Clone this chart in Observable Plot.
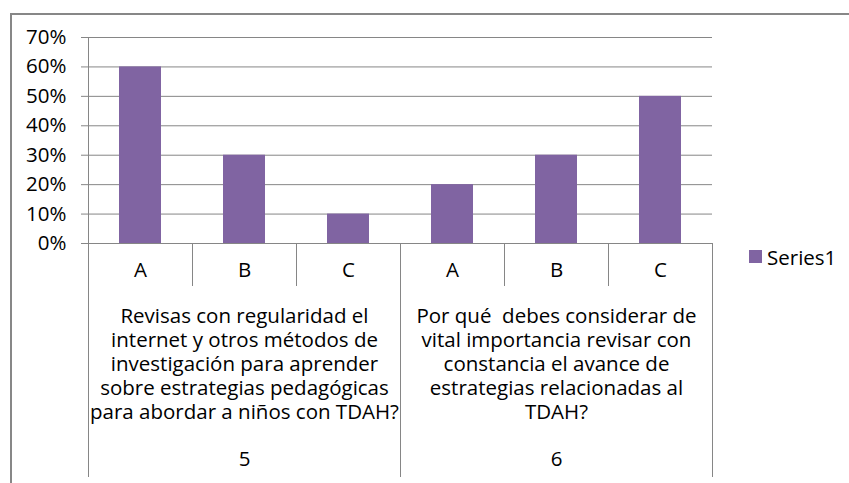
<!DOCTYPE html>
<html>
<head>
<meta charset="utf-8">
<script src="https://cdn.jsdelivr.net/npm/d3@7"></script>
<script src="https://cdn.jsdelivr.net/npm/@observablehq/plot@0.6"></script>
<style>
  html, body { margin: 0; padding: 0; background: #fff; }
  #wrap { position: relative; width: 849px; height: 483px; overflow: hidden; font-family: "Open Sans", sans-serif; }
  #border { position: absolute; left: 10px; top: 13px; width: 900px; height: 500px; border-top: 2px solid #878787; border-left: 2px solid #878787; pointer-events: none; }
  #legend { position: absolute; left: 749px; top: 240px; }
  #legend svg { margin-right: 5px !important; }
</style>
</head>
<body>
<div id="wrap"><div id="border"></div><div id="chart"></div><div id="legend"></div></div>
<script>
// ---- data ----
const groups = ["5", "6"];
const options = ["A", "B", "C"];
const questions = [
  "Revisas con regularidad el\ninternet y otros métodos de\ninvestigación para aprender\nsobre estrategias pedagógicas\npara abordar a niños con TDAH?",
  "Por qué  debes considerar de\nvital importancia revisar con\nconstancia el avance de\nestrategias relacionadas al\nTDAH?"
];
const values = [0.6, 0.3, 0.1, 0.2, 0.3, 0.5];
const yTicks = [0, 0.1, 0.2, 0.3, 0.4, 0.5, 0.6, 0.7];
const seriesName = "Series1";

// ---- build table ----
const rows = [];
groups.forEach((g, gi) => options.forEach((o, oi) => {
  rows.push({group: g, option: o, key: g + "-" + o, value: values[gi * options.length + oi]});
}));
const keys = rows.map(d => d.key);

const W = 849, H = 483, ML = 88, MR = 137, MT = 37, MB = 240;
const band = (W - ML - MR) / keys.length;
const purple = "#8064A2";
const gridColor = "#868686";
const textColor = "#000";
const font = "Open Sans, sans-serif";
const fs = 20.5;

const groupInfo = groups.map((g, gi) => ({
  group: g,
  question: questions[gi],
  first: g + "-" + options[0],
  mid: g + "-" + options[1],
  last: g + "-" + options[options.length - 1]
}));
const innerKeys = rows.filter(d => d.option !== options[0]).map(d => d.key);

const chart = Plot.plot({
  width: W,
  height: H,
  marginLeft: ML,
  marginRight: MR,
  marginTop: MT,
  marginBottom: MB,
  style: {fontFamily: font, fontSize: fs + "px", color: textColor, background: "transparent", overflow: "visible"},
  x: {type: "band", domain: keys, padding: 0, axis: null},
  y: {domain: [0, 0.7], axis: null},
  marks: [
    Plot.gridY(yTicks, {stroke: gridColor, strokeOpacity: 1}),
    Plot.axisY(yTicks, {label: null, tickSize: 7, tickPadding: 15, tickFormat: d3.format(".0%"), stroke: gridColor, strokeOpacity: 1, fill: textColor, fontSize: fs + "px"}),
    Plot.barY(rows, {x: "key", y: "value", fill: purple, insetLeft: 31, insetRight: 31}),
    // left axis line, extending to bottom of category area
    Plot.ruleX([keys[0]], {x: d => d, dx: -band / 2, y1: 0.7, y2: 0, insetBottom: -234, stroke: gridColor}),
    // group separators
    Plot.ruleX(groupInfo.slice(1), {x: "first", dx: -band / 2, y1: 0, y2: 0, insetBottom: -234, stroke: gridColor}),
    Plot.ruleX([groupInfo[groupInfo.length - 1]], {x: "last", dx: band / 2, y1: 0, y2: 0, insetBottom: -234, stroke: gridColor}),
    // inner separators
    Plot.ruleX(innerKeys, {x: d => d, dx: -band / 2, y1: 0, y2: 0, insetBottom: -43, stroke: gridColor}),
    // option letters
    Plot.text(rows, {x: "key", y: 0, text: "option", lineAnchor: "top", dy: 19, fill: textColor, fontSize: fs}),
    // question labels
    Plot.text(groupInfo, {x: "mid", y: 0, text: "question", lineAnchor: "top", dy: 62, lineHeight: 24 / fs, fill: textColor, fontSize: fs}),
    // group numbers
    Plot.text(groupInfo, {x: "mid", y: 0, text: "group", lineAnchor: "top", dy: 208, fill: textColor, fontSize: fs})
  ]
});
document.getElementById("chart").appendChild(chart);

const legend = Plot.legend({
  color: {domain: [seriesName], range: [purple]},
  legend: "swatches",
  swatchSize: 13,
  style: {fontFamily: font, fontSize: fs + "px", color: textColor}
});
document.getElementById("legend").appendChild(legend);
</script>
</body>
</html>
